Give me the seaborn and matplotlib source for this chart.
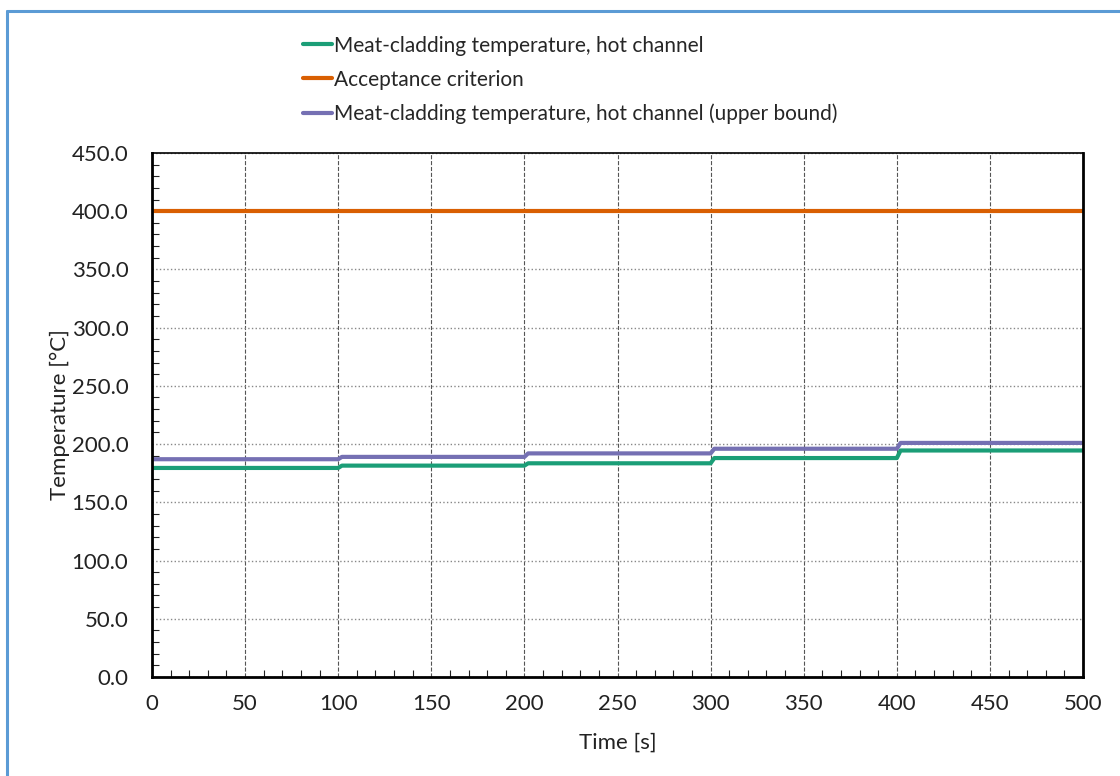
import numpy as np
import pandas as pd
import seaborn as sns
import matplotlib.pyplot as plt
from matplotlib.lines import Line2D
from matplotlib.ticker import MultipleLocator, FormatStrFormatter

# step profiles (short ramp at each step)
time_s = [0, 100, 102, 200, 202, 300, 302, 400, 402, 500]
hot_channel = [179.5, 179.5, 181.5, 181.5, 183.5, 183.5, 188.0, 188.0, 194.5, 194.5]
upper_bound = [187.0, 187.0, 189.0, 189.0, 192.0, 192.0, 196.0, 196.0, 201.0, 201.0]
acceptance = [400.0] * len(time_s)

labels = ["Meat-cladding temperature, hot channel",
          "Acceptance criterion",
          "Meat-cladding temperature, hot channel (upper bound)"]
colors = ["#1b9e77", "#d95f02", "#7570b3"]

df = pd.DataFrame({"Time": time_s * 3,
                   "Temperature": hot_channel + acceptance + upper_bound,
                   "Series": [labels[0]] * len(time_s) + [labels[1]] * len(time_s) + [labels[2]] * len(time_s)})

sns.set_style("ticks")
plt.rcParams["font.family"] = ["Lato", "DejaVu Sans"]

fig = plt.figure(figsize=(11.2, 7.76), dpi=100)
ax = fig.add_axes([0.1357, 0.1276, 0.8313, 0.6753])

sns.lineplot(data=df, x="Time", y="Temperature", hue="Series", hue_order=labels,
             palette=colors, linewidth=3, ax=ax)

ax.set_xlim(0, 500)
ax.set_ylim(0, 450)
ax.xaxis.set_major_locator(MultipleLocator(50))
ax.xaxis.set_minor_locator(MultipleLocator(10))
ax.yaxis.set_major_locator(MultipleLocator(50))
ax.yaxis.set_minor_locator(MultipleLocator(10))
ax.yaxis.set_major_formatter(FormatStrFormatter("%.1f"))
ax.tick_params(which="both", direction="in", labelsize=16, colors="#222222")
ax.tick_params(which="major", length=0)
ax.tick_params(axis="y", which="major", pad=17)
ax.tick_params(axis="x", which="major", pad=12)
ax.tick_params(which="minor", length=5, width=0.8)
ax.tick_params(axis="x", which="both", top=False)
ax.tick_params(axis="y", which="both", right=False)

ax.grid(axis="x", which="major", linestyle="--", color="#555555", linewidth=0.8)
ax.grid(axis="y", which="major", linestyle=":", color="#888888", linewidth=1.0)
for s in ax.spines.values():
    s.set_color("black")
    s.set_linewidth(1.2)
ax.spines["left"].set_linewidth(2)
ax.spines["bottom"].set_linewidth(2)
ax.spines["right"].set_linewidth(2)

ax.set_xlabel("Time [s]", fontsize=16, color="#222222", labelpad=14)
ax.set_ylabel("Temperature [°C]", fontsize=16, color="#222222", labelpad=1)

leg = ax.legend(loc="upper left", bbox_to_anchor=(0.153, 1.24), frameon=False,
                fontsize=15, handlelength=1.4, handletextpad=0.1,
                labelspacing=0.68, borderaxespad=0)
for line in leg.get_lines():
    line.set_linewidth(3)

# light blue frame on top and left edges
fig.add_artist(Line2D([7 / 1120, 1], [1 - 11 / 776, 1 - 11 / 776], transform=fig.transFigure,
                      color="#5b9bd5", linewidth=2.2))
fig.add_artist(Line2D([7 / 1120, 7 / 1120], [0, 1 - 11 / 776], transform=fig.transFigure,
                      color="#5b9bd5", linewidth=2.2))

fig.savefig("out.png", dpi=100)
